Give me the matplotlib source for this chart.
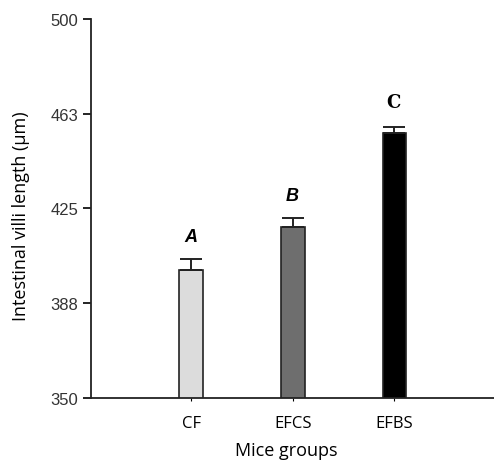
import numpy as np
import matplotlib
matplotlib.use('Agg')
import matplotlib.pyplot as plt

groups = ['CF', 'EFCS', 'EFBS']
means = [400.8, 417.6, 454.9]
errs = [4.2, 3.6, 2.3]
letters = ['A', 'B', 'C']
colors = ['#dcdcdc', '#6e6e6e', '#000000']
yticks = [350, 387.5, 425, 462.5, 500]
yticklabels = ['350', '388', '425', '463', '500']

fig = plt.figure(figsize=(4.94, 4.64), dpi=100)
ax = fig.add_axes([0.184, 0.140, 0.816, 0.817])

x = np.arange(len(groups))
ax.bar(x, means, width=0.235, color=colors, edgecolor='#222222',
       linewidth=1.2, zorder=2)
ax.errorbar(x, means, yerr=[np.zeros(len(errs)), errs], fmt='none',
            ecolor='#222222', elinewidth=1.4, capsize=8, capthick=1.4,
            zorder=3)

# A and B are bold italic sans, C is a bold serif in the original
for xi, m, e, lab in zip(x, means, errs, letters):
    if lab == 'C':
        ax.text(xi - 0.01, m + e + 10, lab, ha='center', va='center',
                fontsize=13, fontweight='bold', family='DejaVu Serif')
    else:
        ax.text(xi - 0.01, m + e + 9, lab, ha='center', va='center',
                fontsize=13, fontweight='bold', fontstyle='italic',
                family='Liberation Sans')

ax.set_xlim(-0.99, 2.98)
ax.set_ylim(350, 500)
ax.set_yticks(yticks)
ax.set_yticklabels(yticklabels, family='Liberation Sans', fontsize=12,
                   color='#333333')
ax.set_xticks(x)
ax.set_xticklabels(groups, family='Open Sans', fontsize=12)
ax.tick_params(axis='x', length=2, width=0.8, pad=10)
ax.tick_params(axis='y', length=6, width=1.2, pad=3)

for s in ['top', 'right']:
    ax.spines[s].set_visible(False)
for s in ['left', 'bottom']:
    ax.spines[s].set_linewidth(1.3)
    ax.spines[s].set_color('#222222')

ax.set_ylabel('Intestinal villi length (\u00b5m)', family='Open Sans',
              fontsize=13)
ax.yaxis.set_label_coords(-0.150, 0.4815)
ax.set_xlabel('Mice groups', family='Open Sans', fontsize=13)
ax.xaxis.set_label_coords(0.485, -0.113)

fig.savefig('out.png', dpi=100)
